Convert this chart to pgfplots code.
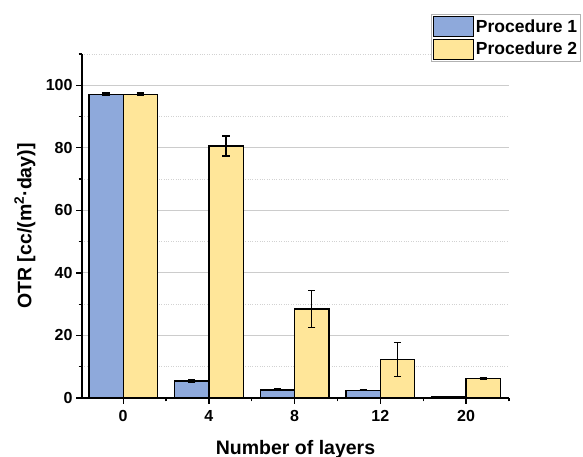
\documentclass[border=0pt]{standalone}
\usepackage{pgfplots}
\pgfplotsset{compat=1.18}
\usepackage{fontspec}
\setmainfont{Liberation Sans}
\definecolor{pblue}{HTML}{8EA9DB}
\definecolor{pyellow}{HTML}{FFE699}
\begin{document}
\begin{tikzpicture}
\path[use as bounding box] (0,0) rectangle (583pt,457pt);
\begin{axis}[
  at={(82pt,59pt)}, anchor=south west,
  scale only axis, width=427pt, height=344pt,
  ybar=0pt, bar width=0.4,
  xmin=-0.48, xmax=4.5, ymin=0, ymax=110,
  axis lines=left, axis line style={-, line width=1.3pt},
  xtick={0,1,2,3,4}, xticklabels={0,4,8,12,20},
  minor xtick={-0.5,0.5,1.5,2.5,3.5,4.5},
  ytick={0,20,40,60,80,100},
  minor ytick={10,30,50,70,90,110},
  tick align=outside, major tick length=6pt, minor tick length=3.5pt,
  every tick/.style={black, line width=1.3pt},
  ymajorgrids, yminorgrids,
  major grid style={gray!40, line width=0.9pt},
  minor grid style={gray!35, dotted, line width=0.8pt},
  /pgf/number format/assume math mode=true,
  tick label style={font=\fontsize{16}{16}\selectfont\bfseries},
  xticklabel style={yshift=-3pt},
  xlabel={Number of layers},
  ylabel={OTR [cc/(m\textsuperscript{2}·day)]},
  label style={font=\fontsize{19.5}{20}\selectfont\bfseries},
  xlabel style={at={(axis description cs:0.5,-0.163)}, anchor=base},
  ylabel style={at={(axis description cs:-0.134,0.5)}, anchor=center},
  legend style={at={(rel axis cs:0.817,1.116)}, anchor=north west,
    draw=gray!60, line width=0.6pt, fill=white, inner sep=1.5pt, row sep=1.5pt,
    font=\fontsize{17.5}{19}\selectfont\bfseries,
    /tikz/every even column/.append style={column sep=3pt}},
  legend cell align=left,
  legend image code/.code={\draw[#1, draw=black, line width=1.3pt] (0pt,-10pt) rectangle (40pt,10pt);},
  error bars/error bar style={black, line width=1.2pt},
  error bars/error mark options={rotate=90, mark size=3.6pt, line width=1.2pt, black},
]
\addplot[fill=pblue, draw=black, line width=1.3pt,
  error bars/.cd, y dir=both, y explicit]
  coordinates {(0,97.1) +- (0,0.4) (1,5.4) +- (0,0.4) (2,2.6) +- (0,0.3) (3,2.5) +- (0,0.2) (4,0.3) +- (0,0.05)};
\addplot[fill=pyellow, draw=black, line width=1.3pt,
  error bars/.cd, y dir=both, y explicit]
  coordinates {(0,97.1) +- (0,0.4) (1,80.6) +- (0,3.2) (2,28.5) +- (0,6.0) (3,12.4) +- (0,5.4) (4,6.3) +- (0,0.2)};
\legend{Procedure 1, Procedure 2}
\end{axis}
\end{tikzpicture}
\end{document}
